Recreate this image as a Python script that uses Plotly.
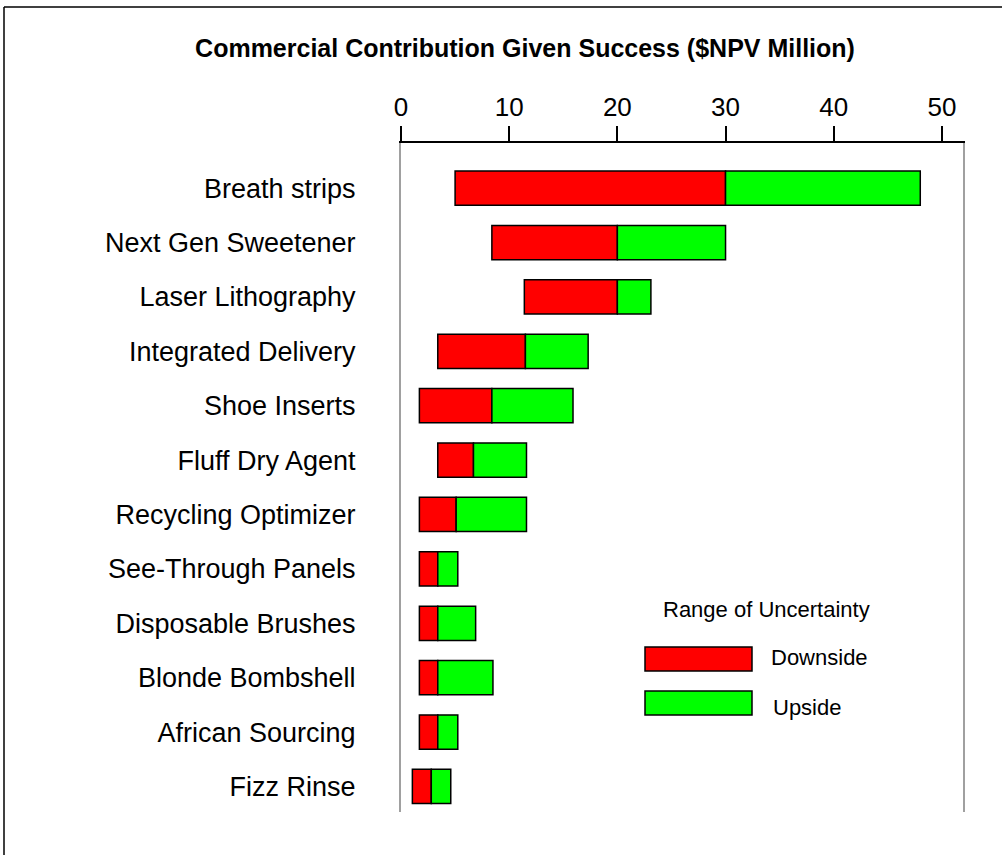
import plotly.graph_objects as go

categories = ["Breath strips", "Next Gen Sweetener", "Laser Lithography", "Integrated Delivery",
              "Shoe Inserts", "Fluff Dry Agent", "Recycling Optimizer", "See-Through Panels",
              "Disposable Brushes", "Blonde Bombshell", "African Sourcing", "Fizz Rinse"]
low = [5.0, 8.4, 11.4, 3.4, 1.7, 3.4, 1.7, 1.7, 1.7, 1.7, 1.7, 1.05]
base_case = [30.0, 20.0, 20.0, 11.5, 8.4, 6.7, 5.1, 3.4, 3.4, 3.4, 3.4, 2.8]
high = [48.0, 30.0, 23.1, 17.3, 15.9, 11.6, 11.6, 5.25, 6.9, 8.5, 5.25, 4.6]
series_names = ["Downside", "Upside"]
tick_values = [0, 10, 20, 30, 40, 50]

RED = "#FF0000"
GREEN = "#00FF00"
FONT = "Arial, Liberation Sans, sans-serif"

W, H = 1002, 855
L, R, T, B = 401, 39, 143, 43
pw, ph = W - L - R, H - T - B

def px_x(p):
    return (p - L) / pw

def px_y(p):
    return (H - B - p) / ph

fig = go.Figure()
fig.add_trace(go.Bar(
    y=categories, x=[b - l for l, b in zip(low, base_case)], base=low,
    orientation="h", name=series_names[0], marker=dict(color=RED, line=dict(color="black", width=1.5)),
    width=0.63, showlegend=False))
fig.add_trace(go.Bar(
    y=categories, x=[h - b for b, h in zip(base_case, high)], base=base_case,
    orientation="h", name=series_names[1], marker=dict(color=GREEN, line=dict(color="black", width=1.5)),
    width=0.63, showlegend=False))

shapes = []
# legend boxes
shapes.append(dict(type="rect", xref="paper", yref="paper", x0=px_x(645), x1=px_x(752),
                   y0=px_y(671), y1=px_y(647), fillcolor=RED, line=dict(color="black", width=1.5)))
shapes.append(dict(type="rect", xref="paper", yref="paper", x0=px_x(645), x1=px_x(752),
                   y0=px_y(715), y1=px_y(691), fillcolor=GREEN, line=dict(color="black", width=1.5)))
# outer frame (top and left)
shapes.append(dict(type="line", xref="paper", yref="paper", x0=px_x(4), x1=px_x(1002),
                   y0=px_y(7), y1=px_y(7), line=dict(color="black", width=1.5)))
shapes.append(dict(type="line", xref="paper", yref="paper", x0=px_x(4), x1=px_x(4),
                   y0=px_y(7), y1=px_y(855), line=dict(color="black", width=1.5)))

annotations = [
    dict(text="Range of Uncertainty", xref="paper", yref="paper", x=px_x(766), y=px_y(609),
         xanchor="center", yanchor="middle", showarrow=False, font=dict(size=22, color="black", family=FONT)),
    dict(text=series_names[0], xref="paper", yref="paper", x=px_x(769), y=px_y(657),
         xanchor="left", yanchor="middle", showarrow=False, font=dict(size=22, color="black", family=FONT)),
    dict(text=series_names[1], xref="paper", yref="paper", x=px_x(771), y=px_y(707),
         xanchor="left", yanchor="middle", showarrow=False, font=dict(size=22, color="black", family=FONT)),
]

fig.update_layout(
    width=W, height=H,
    margin=dict(l=L, r=R, t=T, b=B, autoexpand=False),
    paper_bgcolor="white", plot_bgcolor="white",
    barmode="overlay",
    title=dict(text="<b>Commercial Contribution Given Success ($NPV Million)</b>",
               x=525 / W, xanchor="center", y=1 - 48 / H, yanchor="middle",
               font=dict(size=25, color="black", family=FONT)),
    font=dict(family=FONT, color="black"),
    shapes=shapes, annotations=annotations,
    xaxis=dict(side="top", range=[0, 51.95], tickvals=tick_values, ticks="outside", ticklen=15,
               tickwidth=1.5, tickcolor="black", showline=True, linecolor="black", linewidth=1.5,
               showgrid=False, zeroline=False, tickfont=dict(size=26, color="black", family=FONT)),
    yaxis=dict(type="category", categoryorder="array", categoryarray=categories,
               range=[11.47, -0.83], showline=True, mirror=True, linecolor="#A0A0A0", linewidth=2,
               showgrid=False, zeroline=False, ticks="", ticklabelstandoff=38,
               tickfont=dict(size=27, color="black", family=FONT)),
)

fig.write_html("out.html", config={"displayModeBar": False},
               post_script="document.body.style.margin='0';")
